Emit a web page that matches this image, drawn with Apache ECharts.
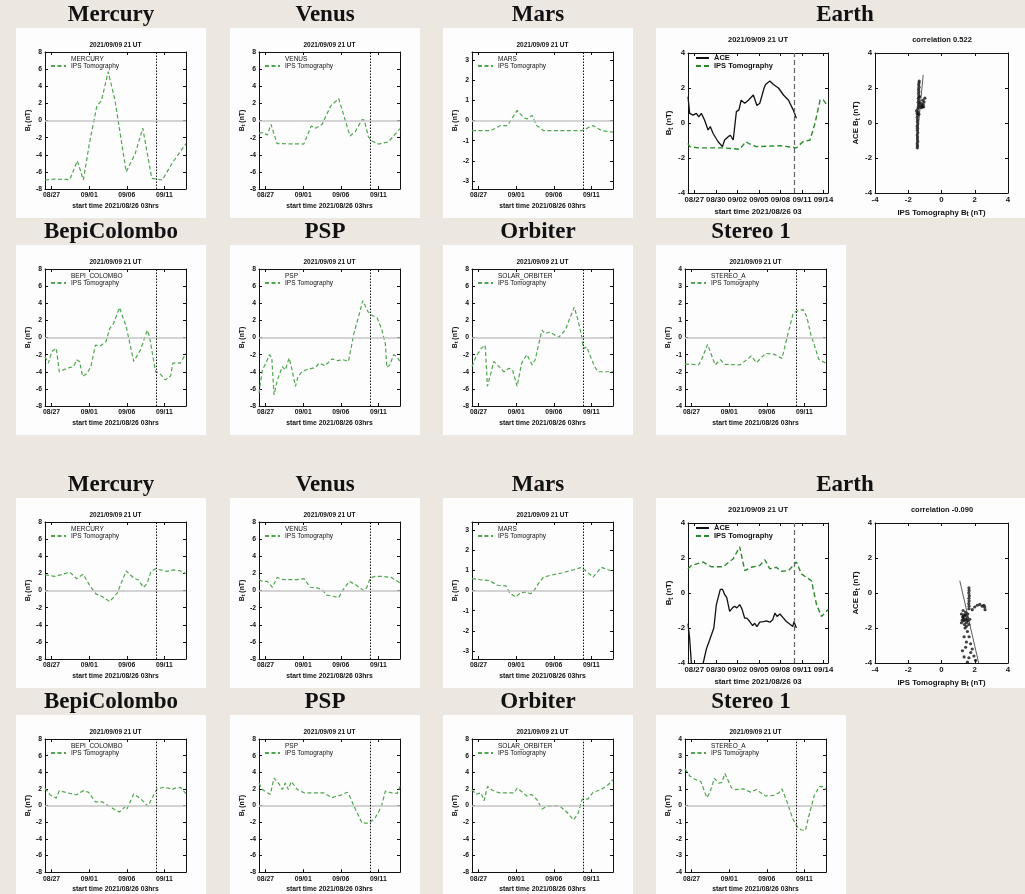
<!DOCTYPE html>
<html>
<head>
<meta charset="utf-8">
<title>IPS tomography B_t</title>
<script src="https://cdn.jsdelivr.net/npm/echarts@6/dist/echarts.min.js"></script>
<style>
  html, body { margin: 0; padding: 0; background: #ece7e0; }
  #wrap { position: relative; width: 1025px; height: 894px; overflow: hidden; }
  .box { position: absolute; background: #fdfdfd; }
  #main { position: absolute; left: 0; top: 0; width: 1025px; height: 894px; }
</style>
</head>
<body>
<div id="wrap"><div id="main"></div></div>
<script>
// x values are days since 2021/08/26 03 UT
var dayTicks = [0.875, 5.875, 10.875, 15.875];
var dayLabels = ['08/27', '09/01', '09/06', '09/11'];
var earthTicks = [0.875, 3.875, 6.875, 9.875, 12.875, 15.875, 18.875];
var earthLabels = ['08/27', '08/30', '09/02', '09/05', '09/08', '09/11', '09/14'];
var nowDay = 14.75; // 2021/09/09 21 UT
var ticks8 = [-8, -6, -4, -2, 0, 2, 4, 6, 8];
var ticks3 = [-3, -2, -1, 0, 1, 2, 3];
var ticks4 = [-4, -3, -2, -1, 0, 1, 2, 3, 4];
var ticksE = [-4, -2, 0, 2, 4];

// ---- upper block ----
var mercuryA = [[0,-6.95],[1.3,-6.85],[3.3,-6.9],[4.3,-4.7],[5.1,-6.95],[5.9,-2.7],[6.9,1.7],[7.5,2.3],[8.4,5.7],[9.3,2.4],[10.8,-6.0],[12.0,-3.85],[13.0,-0.9],[14.2,-6.75],[15.6,-6.95],[16.9,-5.0],[18.75,-2.7]];
var venusA = [[0,-1.5],[0.45,-1.4],[1.1,-1.7],[1.6,-0.45],[2.4,-2.7],[5.95,-2.75],[6.95,-0.65],[7.5,-0.9],[8.4,-0.45],[9.5,1.65],[9.9,2.0],[10.6,2.55],[12.1,-1.8],[12.8,-1.3],[13.7,0.1],[14.0,0.05],[14.55,-1.9],[15.0,-2.4],[15.9,-2.75],[17.2,-2.5],[18.75,-0.95]];
var marsA = [[0,-0.5],[2.5,-0.5],[3.8,-0.25],[4.7,-0.25],[6.0,0.5],[6.9,0.13],[7.3,0.08],[8.0,0.25],[8.6,-0.25],[9.5,-0.5],[14.6,-0.5],[16.1,-0.25],[17.2,-0.5],[18.75,-0.58]];
var aceA = [[0,1.5],[0.23,0.55],[0.7,0.45],[1.16,0.55],[1.5,0.35],[1.86,0.55],[2.3,0.17],[2.8,-0.4],[3.1,-0.2],[3.5,-0.6],[4.2,-1.07],[4.8,-1.35],[5.1,-0.97],[5.6,-0.78],[5.9,-0.7],[6.3,-0.97],[6.74,0.65],[7.1,0.75],[7.4,1.3],[7.9,1.13],[8.4,1.3],[9.1,1.6],[9.6,1.0],[10.0,1.13],[10.6,2.0],[10.8,2.2],[11.4,2.4],[11.9,2.2],[12.6,2.0],[13.3,1.6],[14.0,1.3],[14.65,0.75],[15.1,0.27]];
var ipsEarthA = [[0,-1.17],[0.23,-1.35],[1.4,-1.42],[4.9,-1.42],[7.2,-1.5],[8.05,-1.07],[8.6,-1.2],[9.5,-1.35],[12.8,-1.3],[15.1,-1.42],[16.0,-1.07],[17.0,-0.97],[17.7,0],[18.4,1.32],[18.84,1.32],[19.5,0.95]];
var scatterA = [[-1.45,-1.42],[-1.44,-1.3],[-1.46,-1.18],[-1.43,-1.05],[-1.45,-0.92],[-1.44,-0.8],[-1.46,-0.68],[-1.43,-0.55],[-1.45,-0.42],[-1.44,-0.3],[-1.46,-0.18],[-1.43,-0.05],[-1.45,0.08],[-1.44,0.2],[-1.46,0.33],[-1.42,0.45],[-1.47,0.55],[-1.4,0.62],[-1.5,0.7],[-1.36,0.5],[-1.42,0.8],[-1.4,0.92],[-1.38,1.05],[-1.4,1.18],[-1.37,1.3],[-1.39,1.42],[-1.36,1.55],[-1.38,1.68],[-1.36,1.8],[-1.38,1.92],[-1.35,2.05],[-1.37,2.18],[-1.35,2.3],[-1.34,2.4],[-1.3,1.15],[-1.25,0.98],[-1.2,1.1],[-1.15,0.95],[-1.1,1.05],[-1.05,1.2],[-1.0,1.42],[-1.12,1.3],[-1.2,0.88],[-1.28,0.9],[-1.32,1.5],[-1.08,0.92]];
var fitA = [[-1.52,-1.45],[-1.1,2.75]];
var corrA = '0.522';
var bepiA = [[0,-2.25],[0.45,-3.0],[0.9,-1.65],[1.5,-1.25],[1.9,-4.0],[2.9,-3.6],[3.8,-3.4],[4.2,-2.6],[4.6,-2.8],[5.0,-4.55],[5.6,-4.2],[6.1,-3.4],[6.7,-0.9],[7.3,-1.0],[8.1,-0.5],[8.6,1.05],[9.1,1.6],[9.9,3.5],[10.8,1.25],[11.8,-2.8],[12.7,-1.45],[13.6,0.85],[13.9,0.1],[14.7,-4.0],[15.3,-4.25],[16.0,-4.95],[16.7,-4.5],[17.0,-3.0],[17.6,-2.95],[18.0,-3.0],[18.75,-1.85]];
var pspA = [[0,-6.5],[0.45,-3.8],[0.9,-3.0],[1.4,-2.0],[1.7,-2.4],[2.0,-6.7],[2.4,-5.1],[3.1,-3.4],[3.5,-3.8],[4.0,-2.4],[4.3,-3.4],[4.5,-3.6],[4.85,-5.7],[5.2,-4.55],[5.8,-3.9],[6.6,-3.7],[7.5,-3.5],[8.0,-3.0],[8.8,-3.3],[9.7,-2.5],[10.4,-2.7],[11.2,-2.6],[11.9,-2.8],[12.6,0.4],[13.2,2.3],[13.8,4.3],[14.5,3.0],[15.0,2.6],[15.7,2.3],[16.3,1.0],[16.8,-0.7],[17.0,-3.5],[17.4,-3.2],[17.9,-2.0],[18.3,-2.2],[18.75,-2.8]];
var orbiterA = [[0,-3.4],[0.55,-2.2],[1.2,-1.3],[1.75,-0.9],[2.05,-5.7],[2.5,-4.2],[2.9,-2.8],[3.6,-3.4],[4.25,-4.0],[4.9,-3.6],[5.4,-3.8],[6.0,-5.7],[6.6,-3.0],[7.3,-2.0],[8.0,-3.2],[8.4,-2.6],[9.3,0.85],[9.7,0.45],[10.4,0.65],[11.5,0],[12.4,0.85],[12.9,2.0],[13.6,3.55],[14.1,2.0],[14.6,0.1],[14.8,-1.3],[15.25,-1.1],[15.5,-1.3],[16.3,-3.4],[16.75,-4.0],[18.75,-4.0]];
var stereoA = [[0,-1.55],[1.8,-1.6],[2.2,-1.3],[3.0,-0.4],[4.0,-1.6],[4.7,-1.3],[5.3,-1.57],[7.3,-1.6],[8.2,-1.3],[8.8,-1.08],[9.5,-1.47],[10.7,-0.93],[11.8,-0.97],[12.9,-1.22],[13.6,0.05],[14.4,1.43],[14.9,1.55],[15.7,1.63],[16.2,1.2],[16.75,0.15],[17.8,-1.28],[18.75,-1.5]];

// ---- lower block ----
var mercuryB = [[0,1.84],[1.3,1.64],[2.4,1.9],[3.3,2.15],[4.2,1.37],[5.1,1.9],[5.9,0.66],[6.8,-0.43],[7.6,-0.7],[8.6,-1.29],[9.6,-0.3],[10.8,2.3],[11.8,1.45],[12.4,1.25],[13.1,0.35],[13.6,0.86],[14.1,2.23],[14.7,2.54],[16.2,2.23],[17.1,2.4],[18.0,2.3],[18.75,1.95]];
var venusB = [[0,1.27],[0.44,1.07],[1.1,1.07],[1.8,0.38],[2.4,1.53],[3.3,1.27],[5.1,1.27],[6.0,1.38],[6.8,0.38],[7.7,0.3],[8.4,0.1],[9.0,-0.54],[9.7,-0.65],[10.6,-0.84],[11.2,0.1],[12.0,1.07],[12.8,0.7],[13.9,0],[14.3,0.3],[14.8,1.46],[15.4,1.65],[16.3,1.65],[17.6,1.53],[18.75,0.88]];
var marsB = [[0,0.59],[1.0,0.54],[2.3,0.49],[3.4,0.26],[4.5,0.23],[5.0,-0.11],[5.8,-0.33],[6.4,-0.13],[7.1,-0.07],[7.8,-0.16],[8.2,-0.03],[8.9,0.38],[9.5,0.66],[10.4,0.75],[11.9,0.87],[13.5,1.03],[14.6,1.15],[15.2,0.95],[16.1,0.66],[17.2,1.15],[18.1,1.03],[18.75,0.95]];
var aceB = [[0,-1.75],[0.23,-2.6],[0.5,-4.2],[1.2,-5.0],[1.9,-4.4],[2.56,-3.2],[3.0,-2.7],[3.6,-2.0],[3.95,-0.66],[4.2,-0.56],[4.5,0.21],[4.8,0.21],[5.1,-0.08],[5.4,-0.27],[5.8,-1.05],[6.2,-0.85],[6.5,-0.76],[6.8,-0.85],[7.2,-0.66],[7.5,-0.89],[7.9,-1.44],[8.2,-1.44],[8.6,-1.63],[9.0,-1.86],[9.3,-1.73],[9.6,-1.92],[10.0,-1.67],[10.5,-1.63],[10.9,-1.59],[11.4,-1.67],[11.8,-1.53],[12.1,-1.15],[12.4,-1.34],[12.8,-1.2],[13.3,-1.44],[13.7,-1.63],[14.2,-1.79],[14.6,-1.92],[14.75,-1.63],[15.1,-2.0]];
var ipsEarthB = [[0,1.38],[0.47,1.57],[2.1,1.77],[3.25,1.5],[4.9,1.5],[6.3,1.96],[7.2,2.64],[7.9,1.28],[8.8,1.47],[10.0,1.57],[10.7,1.9],[11.4,1.38],[12.3,1.47],[13.0,1.24],[14.0,1.28],[15.1,1.77],[15.8,1.09],[16.5,0.89],[17.2,0.7],[17.9,-0.66],[18.6,-1.34],[19.5,-0.95]];
var scatterB = [[1.2,-1.2],[1.3,-1.4],[1.35,-1.6],[1.4,-1.3],[1.45,-1.5],[1.5,-1.7],[1.25,-1.55],[1.38,-1.8],[1.55,-1.4],[1.6,-1.6],[1.3,-1.0],[1.45,-1.1],[1.5,-1.9],[1.65,-1.8],[1.7,-1.5],[1.2,-1.7],[1.42,-2.0],[1.35,-1.25],[1.28,-1.35],[1.48,-1.25],[1.58,-1.2],[1.33,-1.5],[1.52,-1.55],[1.65,0.3],[1.66,0.15],[1.64,0.0],[1.67,-0.15],[1.65,-0.3],[1.66,-0.45],[1.64,-0.6],[1.66,-0.75],[1.65,-0.9],[1.85,-0.95],[2.0,-0.8],[2.15,-0.7],[2.3,-0.65],[2.45,-0.75],[2.6,-0.8],[2.62,-0.95],[2.55,-0.7],[1.56,-2.2],[1.66,-2.5],[1.75,-2.9],[1.85,-3.2],[1.95,-3.6],[2.05,-3.85],[1.36,-3.65],[1.56,-3.95],[1.76,-3.4],[1.26,-3.3],[1.36,-2.5],[1.5,-2.8],[1.45,-3.1],[1.65,-3.7]];
var fitB = [[1.1,0.7],[2.26,-4.1]];
var corrB = '-0.090';
var bepiB = [[0,2.08],[0.67,1.3],[1.5,0.9],[1.9,1.8],[2.9,1.55],[4.2,1.3],[5.1,1.8],[5.8,1.6],[6.7,0.45],[7.6,0.45],[8.4,0],[9.3,-0.5],[9.9,-0.77],[10.7,-0.1],[10.9,-0.4],[11.8,1.4],[12.7,0.85],[13.7,-0.1],[14.2,0.85],[14.9,2.0],[15.8,2.2],[16.4,2.1],[16.9,1.93],[17.3,2.1],[18.0,2.2],[18.75,1.43]];
var pspB = [[0,2.7],[0.44,1.93],[1.1,1.54],[1.5,1.35],[2.0,3.3],[2.6,2.7],[3.1,1.93],[3.5,2.7],[3.9,1.93],[4.3,2.9],[5.1,1.93],[6.0,1.54],[7.5,1.54],[8.6,1.54],[9.7,0.96],[10.8,1.23],[11.7,1.6],[12.0,1.23],[12.8,-0.4],[13.7,-2.1],[14.6,-2.1],[15.4,-1.54],[15.9,-0.77],[16.3,0],[16.8,1.73],[17.6,1.54],[18.4,1.46],[18.75,2.3]];
var orbiterB = [[0,1.93],[0.53,1.35],[1.2,1.54],[1.6,0.58],[2.06,2.3],[2.7,1.85],[3.6,1.54],[4.9,1.54],[5.6,1.54],[6.0,2.1],[6.7,1.6],[7.3,1.16],[7.9,1.35],[8.6,0.77],[9.3,-0.4],[10.0,-0.1],[10.8,0],[11.7,-0.08],[12.6,-0.77],[13.5,-1.73],[14.1,-0.96],[14.65,0.77],[15.4,0.77],[16.1,1.6],[17.2,1.93],[18.1,2.5],[18.75,3.1]];
var stereoB = [[0,2.2],[0.67,1.77],[1.3,1.58],[2.1,1.45],[2.9,0.48],[3.3,0.77],[3.9,1.64],[4.5,1.35],[4.9,1.39],[5.3,1.93],[5.6,1.64],[6.2,1.06],[6.7,0.96],[7.8,1.0],[8.7,0.81],[9.5,0.96],[10.2,0.73],[10.7,0.58],[11.8,0.62],[12.5,0.77],[12.9,1.0],[13.6,0.19],[14.3,-0.77],[14.9,-1.25],[15.4,-1.45],[16.0,-1.5],[16.5,-0.58],[17.2,0.62],[17.9,1.16],[18.4,1.12],[18.75,0.96]];

var SANS = '"Liberation Sans", Arial, sans-serif';
var SERIF = '"Liberation Serif", "DejaVu Serif", serif';
var GREEN = '#4fa64f';
var GREEN_E = '#2a8a2a';
var colX = [16, 230, 443, 656];
var rowY = [28, 245, 498, 715];

var opt = {
  backgroundColor: 'transparent',
  animation: false,
  title: [], grid: [], xAxis: [], yAxis: [], legend: [], series: []
};

function addBox(x, y, w, h) {
  var d = document.createElement('div');
  d.className = 'box';
  d.style.left = x + 'px'; d.style.top = y + 'px';
  d.style.width = w + 'px'; d.style.height = h + 'px';
  document.getElementById('wrap').insertBefore(d, document.getElementById('main'));
}

function labelFor(ticks, labels) {
  return function (v) {
    for (var i = 0; i < ticks.length; i++) if (Math.abs(ticks[i] - v) < 1e-6) return labels[i];
    return '';
  };
}

function textStyle(fs) {
  return { fontSize: fs, fontWeight: 'bold', color: '#111', fontFamily: SANS,
    rich: { s: { fontSize: fs - 1.5, fontWeight: 'bold', color: '#111', fontFamily: SANS, padding: [fs * 0.5, 0, 0, 0] } } };
}

function addAxes(gi, xr, xt, xfmt, yr, yt, fs, xname, yname, yGap) {
  var frame = { onZero: false, lineStyle: { color: '#111', width: 1 } };
  function tick(vals) { return { inside: true, length: 3, customValues: vals, lineStyle: { color: '#111', width: 1 } }; }
  var lab = { fontSize: fs, fontWeight: 'bold', color: '#111', fontFamily: SANS, margin: 3, hideOverlap: false };
  var xi = opt.xAxis.length, yi = opt.yAxis.length;
  opt.xAxis.push({ type: 'value', gridIndex: gi, min: xr[0], max: xr[1], position: 'bottom',
    axisLine: frame, axisTick: tick(xt), splitLine: { show: false },
    axisLabel: Object.assign({ customValues: xt, formatter: xfmt }, lab),
    name: xname, nameLocation: 'middle', nameGap: fs + 7, nameTextStyle: textStyle(fs) });
  opt.xAxis.push({ type: 'value', gridIndex: gi, min: xr[0], max: xr[1], position: 'top',
    axisLine: frame, axisTick: tick(xt), axisLabel: { show: false }, splitLine: { show: false } });
  opt.yAxis.push({ type: 'value', gridIndex: gi, min: yr[0], max: yr[1], position: 'left',
    axisLine: frame, axisTick: tick(yt), splitLine: { show: false },
    axisLabel: Object.assign({ customValues: yt }, lab),
    name: yname, nameLocation: 'middle', nameRotate: 90, nameGap: yGap, nameTextStyle: textStyle(fs) });
  opt.yAxis.push({ type: 'value', gridIndex: gi, min: yr[0], max: yr[1], position: 'right',
    axisLine: frame, axisTick: tick(yt), axisLabel: { show: false }, splitLine: { show: false } });
  return [xi, yi];
}

function planet(c, r, title, craft, data, yr, yt) {
  var bx = colX[c], by = rowY[r];
  var pl = bx + 29, pt = by + 24, pw = 141, ph = 137;
  addBox(bx, by, 190, Math.min(190, 894 - by));
  opt.title.push({ text: title, left: bx + 95, top: by - 24, textAlign: 'center', padding: 0,
    textStyle: { fontFamily: SERIF, fontSize: 23, fontWeight: 'bold', color: '#111' } });
  opt.title.push({ text: '2021/09/09 21 UT', left: pl + pw / 2, top: by + 14, textAlign: 'center', padding: 0,
    textStyle: { fontFamily: SANS, fontSize: 6.5, fontWeight: 'bold', color: '#111' } });
  var gi = opt.grid.length;
  opt.grid.push({ left: pl, top: pt, width: pw, height: ph });
  var ax = addAxes(gi, [0, 18.75], dayTicks, labelFor(dayTicks, dayLabels), yr, yt, 6.8,
    'start time 2021/08/26 03hrs', 'B{s|t} (nT)', 11);
  var craftName = craft + '#' + gi, ipsName = 'IPS Tomography#' + gi;
  opt.series.push({ type: 'line', name: craftName, xAxisIndex: ax[0], yAxisIndex: ax[1], data: [], symbol: 'none' });
  opt.series.push({ type: 'line', name: ipsName, xAxisIndex: ax[0], yAxisIndex: ax[1], data: data,
    symbol: 'none', z: 3, color: GREEN, lineStyle: { color: GREEN, width: 1.2, type: [4, 2.5] },
    markLine: { silent: true, symbol: 'none', label: { show: false },
      data: [
        { yAxis: 0, lineStyle: { color: '#c4c4c4', width: 1.6, type: 'solid' } },
        { xAxis: nowDay, lineStyle: { color: '#111', width: 1, type: [1.5, 1.5] } }
      ] } });
  opt.legend.push({ orient: 'vertical', left: pl + 5, top: pt + 3, padding: 0, itemGap: 0,
    itemWidth: 15, itemHeight: 8, selectedMode: false, itemStyle: { opacity: 0 },
    data: [{ name: craftName, icon: 'none' }, { name: ipsName }],
    formatter: function (n) { return n.split('#')[0]; },
    textStyle: { fontSize: 6.5, color: '#111', fontFamily: SANS } });
}

function earth(r, ace, ips, pts, fit, corr) {
  var bx = 656, by = rowY[r];
  addBox(bx, by, 369, 190);
  opt.title.push({ text: 'Earth', left: 845, top: by - 24, textAlign: 'center', padding: 0,
    textStyle: { fontFamily: SERIF, fontSize: 23, fontWeight: 'bold', color: '#111' } });
  opt.title.push({ text: '2021/09/09 21 UT', left: 758, top: by + 8, textAlign: 'center', padding: 0,
    textStyle: { fontFamily: SANS, fontSize: 7.5, fontWeight: 'bold', color: '#111' } });
  opt.title.push({ text: 'correlation ' + corr, left: 942, top: by + 8, textAlign: 'center', padding: 0,
    textStyle: { fontFamily: SANS, fontSize: 7.5, fontWeight: 'bold', color: '#111' } });
  var pt = by + 25;
  // time series
  var gi = opt.grid.length;
  opt.grid.push({ left: 688, top: pt, width: 140, height: 140 });
  var ax = addAxes(gi, [0, 19.5], earthTicks, labelFor(earthTicks, earthLabels), [-4, 4], ticksE, 7.8,
    'start time 2021/08/26 03', 'B{s|t} (nT)', 7);
  var aceName = 'ACE#' + gi, ipsName = 'IPS Tomography#' + gi;
  opt.series.push({ type: 'line', name: aceName, xAxisIndex: ax[0], yAxisIndex: ax[1], data: ace,
    symbol: 'none', z: 4, color: '#111', lineStyle: { color: '#111', width: 1.3, type: 'solid' } });
  opt.series.push({ type: 'line', name: ipsName, xAxisIndex: ax[0], yAxisIndex: ax[1], data: ips,
    symbol: 'none', z: 3, color: GREEN_E, lineStyle: { color: GREEN_E, width: 1.4, type: [5, 3] },
    markLine: { silent: true, symbol: 'none', label: { show: false },
      data: [{ xAxis: nowDay, lineStyle: { color: '#666', width: 1.2, type: [5, 3] } }] } });
  opt.legend.push({ orient: 'vertical', left: 695, top: pt + 1, padding: 0, itemGap: 0,
    itemWidth: 13, itemHeight: 10, selectedMode: false, itemStyle: { opacity: 0 },
    data: [{ name: aceName }, { name: ipsName }],
    formatter: function (n) { return n.split('#')[0]; },
    textStyle: { fontSize: 7.5, fontWeight: 'bold', color: '#111', fontFamily: SANS } });
  // scatter
  var gs = opt.grid.length;
  opt.grid.push({ left: 875, top: pt, width: 133, height: 140 });
  var as = addAxes(gs, [-4, 4], ticksE, null, [-4, 4], ticksE, 7.8,
    'IPS Tomography B{s|t} (nT)', 'ACE B{s|t} (nT)', 8);
  opt.series.push({ type: 'scatter', xAxisIndex: as[0], yAxisIndex: as[1], data: pts,
    symbolSize: 3.2, itemStyle: { color: '#111' } });
  opt.series.push({ type: 'line', xAxisIndex: as[0], yAxisIndex: as[1], data: fit,
    symbol: 'none', lineStyle: { color: '#333', width: 0.8 } });
}

planet(0, 0, 'Mercury', 'MERCURY', mercuryA, [-8, 8], ticks8);
planet(1, 0, 'Venus', 'VENUS', venusA, [-8, 8], ticks8);
planet(2, 0, 'Mars', 'MARS', marsA, [-3.4, 3.4], ticks3);
earth(0, aceA, ipsEarthA, scatterA, fitA, corrA);
planet(0, 1, 'BepiColombo', 'BEPI_COLOMBO', bepiA, [-8, 8], ticks8);
planet(1, 1, 'PSP', 'PSP', pspA, [-8, 8], ticks8);
planet(2, 1, 'Orbiter', 'SOLAR_ORBITER', orbiterA, [-8, 8], ticks8);
planet(3, 1, 'Stereo 1', 'STEREO_A', stereoA, [-4, 4], ticks4);

planet(0, 2, 'Mercury', 'MERCURY', mercuryB, [-8, 8], ticks8);
planet(1, 2, 'Venus', 'VENUS', venusB, [-8, 8], ticks8);
planet(2, 2, 'Mars', 'MARS', marsB, [-3.4, 3.4], ticks3);
earth(2, aceB, ipsEarthB, scatterB, fitB, corrB);
planet(0, 3, 'BepiColombo', 'BEPI_COLOMBO', bepiB, [-8, 8], ticks8);
planet(1, 3, 'PSP', 'PSP', pspB, [-8, 8], ticks8);
planet(2, 3, 'Orbiter', 'SOLAR_ORBITER', orbiterB, [-8, 8], ticks8);
planet(3, 3, 'Stereo 1', 'STEREO_A', stereoB, [-4, 4], ticks4);

var chart = echarts.init(document.getElementById('main'), null, { renderer: 'canvas' });
chart.setOption(opt);
</script>
</body>
</html>
